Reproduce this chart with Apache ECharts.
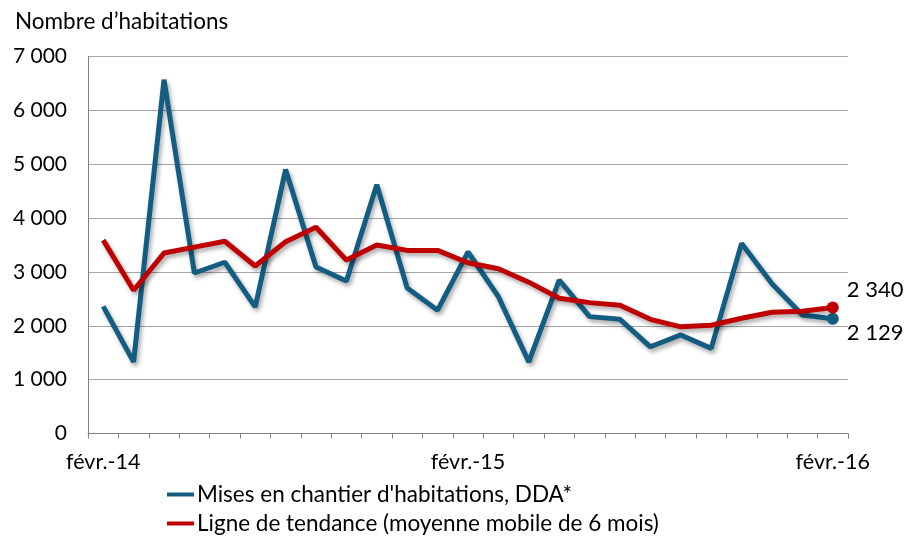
<!DOCTYPE html>
<html>
<head>
<meta charset="utf-8">
<script src="https://cdn.jsdelivr.net/npm/echarts@6/dist/echarts.min.js"></script>
<style>
html,body{margin:0;padding:0;background:#fff;}
#chart{width:909px;height:539px;}
</style>
</head>
<body>
<div id="chart"></div>
<script>
const categories = ['févr.-14','mars-14','avr.-14','mai-14','juin-14','juil.-14','août-14','sept.-14','oct.-14','nov.-14','déc.-14','janv.-15',
  'févr.-15','mars-15','avr.-15','mai-15','juin-15','juil.-15','août-15','sept.-15','oct.-15','nov.-15','déc.-15','janv.-16','févr.-16'];
const miseEnChantier = [2360,1330,6570,2980,3180,2350,4900,3090,2830,4620,2700,2290,
  3370,2540,1330,2850,2170,2120,1610,1830,1580,3530,2780,2200,2129];
const tendance = [3590,2660,3350,3460,3570,3110,3560,3830,3220,3500,3400,3400,
  3170,3060,2810,2510,2430,2380,2120,1980,2010,2140,2250,2270,2340];
const yTicks = [0,1000,2000,3000,4000,5000,6000,7000];
const seriesNames = ["Mises en chantier d'habitations, DDA*", "Ligne de tendance (moyenne mobile de 6 mois)"];
const yTitle = 'Nombre d’habitations';

const FONT = 'Lato';
const fmt = v => String(Math.round(v)).replace(/\B(?=(\d{3})+(?!\d))/g, ' ');

function withEnd(arr, color, offset) {
  return arr.map((v, i) => {
    if (i !== arr.length - 1) return v;
    return {
      value: v,
      symbol: 'circle',
      symbolSize: 12,
      itemStyle: { color: color },
      label: {
        show: true, position: 'right', distance: 8, offset: offset,
        formatter: p => fmt(p.value), color: '#000', fontSize: 22, fontFamily: FONT
      }
    };
  });
}

const blue = '#135d82';
const red = '#c00000';
const shadow = { shadowColor: 'rgba(0,0,0,0.35)', shadowBlur: 4, shadowOffsetX: 2, shadowOffsetY: 3 };

const legendBase = {
  left: 167, icon: 'rect', itemWidth: 27, itemHeight: 4, padding: 0,
  textStyle: { fontFamily: FONT, fontSize: 22.5, color: '#000', padding: [0,0,0,-2] }
};

const chart = echarts.init(document.getElementById('chart'), null, { renderer: 'canvas' });
chart.setOption({
  animation: false,
  backgroundColor: '#fff',
  title: {
    text: yTitle, left: 10, top: 5,
    textStyle: { fontFamily: FONT, fontSize: 22.5, fontWeight: 'normal', color: '#000' }
  },
  grid: { left: 88, right: 61, top: 56.5, bottom: 105.5, containLabel: false },
  legend: [
    Object.assign({ top: 483, data: [seriesNames[0]] }, legendBase),
    Object.assign({ top: 512, data: [seriesNames[1]] }, legendBase)
  ],
  xAxis: {
    type: 'category', data: categories, boundaryGap: true,
    axisLine: { lineStyle: { color: '#808080', width: 1 } },
    axisTick: { show: true, interval: 0, length: 5, lineStyle: { color: '#808080' } },
    axisLabel: {
      interval: (i) => i % 12 === 0, margin: 18,
      fontFamily: FONT, fontSize: 21.5, color: '#000'
    },
    splitLine: { show: false }
  },
  yAxis: {
    type: 'value', min: yTicks[0], max: yTicks[yTicks.length - 1], interval: 1000,
    axisLine: { show: true, lineStyle: { color: '#808080', width: 1 } },
    axisTick: { show: false },
    axisLabel: { formatter: v => fmt(v), margin: 21, fontFamily: FONT, fontSize: 21, color: '#000' },
    splitLine: { show: true, lineStyle: { color: '#a6a6a6', width: 1.2 } }
  },
  series: [
    {
      name: seriesNames[0], type: 'line', data: withEnd(miseEnChantier, blue, [0, 14]),
      symbol: 'none', showSymbol: true, z: 2,
      itemStyle: { color: blue },
      lineStyle: Object.assign({ color: blue, width: 5 }, shadow)
    },
    {
      name: seriesNames[1], type: 'line', data: withEnd(tendance, red, [0, -18]),
      symbol: 'none', showSymbol: true, z: 3,
      itemStyle: { color: red },
      lineStyle: Object.assign({ color: red, width: 5 }, shadow)
    }
  ]
});
</script>
</body>
</html>
